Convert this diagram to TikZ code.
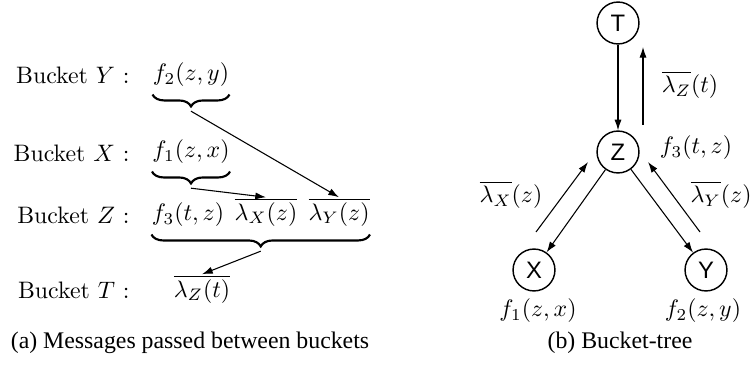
\documentclass[tikz,border=0pt]{standalone}
\usepackage{fontspec}
\newfontfamily\capfont{Liberation Serif}
\newfontfamily\nodefont{Liberation Sans}
\usetikzlibrary{arrows.meta,decorations.pathreplacing}
\begin{document}
\begin{tikzpicture}[x=0.42pt,y=-0.42pt,
  lbl/.style={anchor=east,inner sep=0pt},
  term/.style={inner sep=0pt},
  brc/.style={decorate,decoration={brace,mirror,amplitude=5pt},line width=0.9pt},
  msg/.style={-{Latex[length=4.5pt,width=3pt]},line width=0.45pt},
  vnode/.style={circle,draw,line width=0.6pt,minimum size=17.6pt,inner sep=0pt,font=\nodefont},
  captxt/.style={font=\capfont}]
\useasboundingbox (0,0) rectangle (756,367);
% ---- (a) ----
\node[lbl] (ly) at (130,75) {Bucket $Y$ :};
\node[lbl] (lx) at (130,153) {Bucket $X$ :};
\node[lbl] (lz) at (130,215) {Bucket $Z$ :};
\node[lbl] (lt) at (130,290) {Bucket $T$ :};
\node[term] (f2) at (191,75) {$f_2(z,y)$};
\node[term] (f1) at (191,152) {$f_1(z,x)$};
\node[term] (f3) at (188,215) {$f_3(t,z)$};
\node[term] (mx) at (266,212) {$\overline{\lambda_X(z)}$};
\node[term] (my) at (339,212) {$\overline{\lambda_Y(z)}$};
\node[term] (mz) at (202,289) {$\overline{\lambda_Z(t)}$};
\draw[brc] ([yshift=-3pt]f2.south west) -- ([yshift=-3pt]f2.south east) coordinate[midway,yshift=-7pt] (by);
\draw[brc] ([yshift=-3pt]f1.south west) -- ([yshift=-3pt]f1.south east) coordinate[midway,yshift=-7pt] (bx);
\draw[brc] ([yshift=-3pt]f3.south west) -- ([yshift=-3pt]f3.south west -| my.east) coordinate[midway,yshift=-7pt] (bz);
\draw[msg] (by) -- (my.north);
\draw[msg] (bx) -- (mx.north);
\draw[msg] (bz) -- (mz.north);
\node[captxt] (capa) at (190,343) {(a) Messages passed between buckets};
% ---- (b) ----
\node[vnode] (T) at (618,23) {T};
\node[vnode] (Z) at (618,152) {Z};
\node[vnode] (X) at (534,270) {X};
\node[vnode] (Y) at (706,270) {Y};
\draw[msg] (T) -- (Z);
\draw[msg] (Z) -- (X);
\draw[msg] (Z) -- (Y);
\coordinate (tzs) at (643,125);
\coordinate (tze) at (643,47);
\coordinate (xzs) at (536,232);
\coordinate (xze) at (588,162);
\coordinate (yzs) at (700,232);
\coordinate (yze) at (648,162);
\draw[msg] (tzs) -- (tze);
\draw[msg] (xzs) -- (xze);
\draw[msg] (yzs) -- (yze);
\node[term] (lamz) at (690,85) {$\overline{\lambda_Z}(t)$};
\node[term] (f3b) at (696,148) {$f_3(t,z)$};
\node[term] (lamx) at (511,195) {$\overline{\lambda_X}(z)$};
\node[term] (lamy) at (721,195) {$\overline{\lambda_Y}(z)$};
\node[term] (f1b) at (538,311) {$f_1(z,x)$};
\node[term] (f2b) at (703,311) {$f_2(z,y)$};
\node[captxt] (capb) at (620,343) {(b) Bucket-tree};
\end{tikzpicture}
\end{document}
